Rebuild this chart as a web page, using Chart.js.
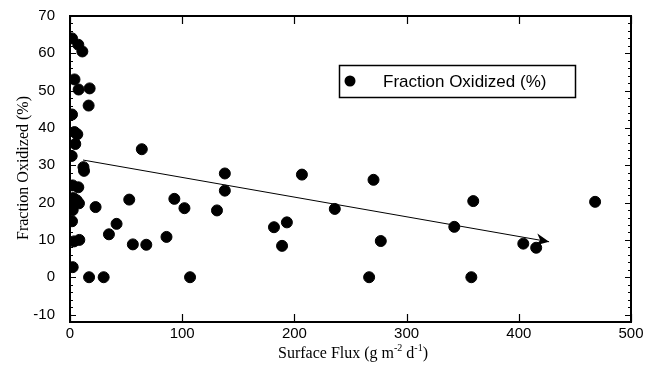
<!DOCTYPE html>
<html>
<head>
<meta charset="utf-8">
<script src="https://cdn.jsdelivr.net/npm/chart.js@4/dist/chart.umd.min.js"></script>
<style>
  html, body { margin: 0; padding: 0; background: #fff; }
  .chart { width: 647px; height: 366px; }
</style>
</head>
<body>
<div class="chart"><canvas id="myChart" width="647" height="366"></canvas></div>
<script>
// surface flux (g m-2 d-1) vs fraction oxidized (%)
const fluxValues = [
  1.8, 7.4, 11, 4, 7.7, 17.5, 16.6, 1.8, 4, 6.5,
  4.7, 1.5, 64, 12, 12.5, 2.4, 7.4, 3, 6, 8,
  2, 2.4, 1.8, 22.8, 52.8, 93, 102, 131, 41.5, 34.7,
  86, 56, 68, 3.6, 8.3, 2.4, 17, 30, 107, 138,
  138, 206.7, 270.5, 236, 193.3, 181.8, 189, 277, 266.6, 359.4,
  342.5, 404, 415.5, 357.7, 468
];
const oxidizedValues = [
  64, 62.3, 60.5, 53, 50.3, 50.6, 46, 43.6, 38.9, 38.3,
  35.7, 32.5, 34.3, 29.5, 28.5, 24.6, 24.1, 21.2, 20.6, 19.8,
  19.5, 18, 15, 18.8, 20.8, 21, 18.5, 17.9, 14.3, 11.5,
  10.8, 8.8, 8.7, 9.6, 10, 2.7, 0, 0, 0, 27.8,
  23.2, 27.5, 26.1, 18.3, 14.7, 13.4, 8.4, 9.7, 0, 20.4,
  13.5, 9, 7.9, 0, 20.2
];
// trend arrow, start and tip
const trendX = [11.6, 427];
const trendY = [31.4, 9.5];

const xTicks = [0, 100, 200, 300, 400, 500];
const yTicks = [-10, 0, 10, 20, 30, 40, 50, 60, 70];
const yMinorStep = 2;

const seriesLabel = "Fraction Oxidized (%)";
const yTitle = "Fraction Oxidized (%)";

const frame = {
  id: "frame",
  afterDatasetsDraw(chart) {
    const { ctx, chartArea: a, scales } = chart;
    const xs = scales.x, ys = scales.y;
    ctx.save();
    ctx.strokeStyle = "#000";

    // inward ticks on all four sides
    ctx.lineWidth = 1.2;
    ctx.beginPath();
    xTicks.forEach((v) => {
      const px = Math.round(xs.getPixelForValue(v)) + 0.5;
      ctx.moveTo(px, a.bottom); ctx.lineTo(px, a.bottom - 8);
      ctx.moveTo(px, a.top); ctx.lineTo(px, a.top + 8);
    });
    for (let v = yTicks[0]; v <= yTicks[yTicks.length - 1]; v += yMinorStep) {
      const len = v % 10 === 0 ? 6 : 3;
      const py = Math.round(ys.getPixelForValue(v)) + 0.5;
      ctx.moveTo(a.left, py); ctx.lineTo(a.left + len, py);
      ctx.moveTo(a.right, py); ctx.lineTo(a.right - len, py);
    }
    ctx.stroke();

    ctx.lineWidth = 2;
    ctx.strokeRect(a.left, a.top, a.right - a.left, a.bottom - a.top);

    // arrow head at the end of the trend line
    const x0 = xs.getPixelForValue(trendX[0]), y0 = ys.getPixelForValue(trendY[0]);
    const x1 = xs.getPixelForValue(trendX[1]), y1 = ys.getPixelForValue(trendY[1]);
    const ang = Math.atan2(y1 - y0, x1 - x0);
    ctx.translate(x1, y1);
    ctx.rotate(ang);
    ctx.fillStyle = "#000";
    ctx.beginPath();
    ctx.moveTo(0, 0);
    ctx.lineTo(-13, -6);
    ctx.lineTo(-9, 0);
    ctx.lineTo(-13, 6);
    ctx.closePath();
    ctx.fill();
    ctx.restore();

    // legend box
    ctx.save();
    ctx.lineWidth = 1.5;
    ctx.strokeStyle = "#000";
    ctx.strokeRect(339.5, 65.5, 236, 32);
    ctx.fillStyle = "#000";
    ctx.beginPath();
    ctx.arc(350, 81, 5.5, 0, Math.PI * 2);
    ctx.fill();
    ctx.font = '17px "Liberation Sans", Arial, sans-serif';
    ctx.textBaseline = "middle";
    ctx.fillText(seriesLabel, 383, 82);
    ctx.restore();

    // axis titles
    ctx.save();
    ctx.fillStyle = "#000";
    ctx.textBaseline = "alphabetic";
    const big = '16px "Liberation Serif", "Times New Roman", serif';
    const small = '10px "Liberation Serif", "Times New Roman", serif';
    const parts = [
      ["Surface Flux (g m", big, 0],
      ["-2", small, -7],
      [" d", big, 0],
      ["-1", small, -7],
      [")", big, 0],
    ];
    let total = 0;
    parts.forEach((p) => { ctx.font = p[1]; total += ctx.measureText(p[0]).width; });
    let cx = 353 - total / 2;
    parts.forEach((p) => {
      ctx.font = p[1];
      ctx.fillText(p[0], cx, 358 + p[2]);
      cx += ctx.measureText(p[0]).width;
    });

    ctx.font = big;
    ctx.translate(28, 168);
    ctx.rotate(-Math.PI / 2);
    ctx.textAlign = "center";
    ctx.fillText(yTitle, 0, 0);
    ctx.restore();
  },
};

const ctx = document.getElementById("myChart").getContext("2d");
const myChart = new Chart(ctx, {
  type: "scatter",
  data: {
    datasets: [
      {
        label: seriesLabel,
        data: fluxValues.map((x, i) => ({ x: x, y: oxidizedValues[i] })),
        backgroundColor: "#000",
        borderColor: "#000",
        pointRadius: 5.5,
        pointHoverRadius: 5.5,
      },
      {
        label: "trend",
        type: "line",
        data: trendX.map((x, i) => ({ x: x, y: trendY[i] })),
        borderColor: "#000",
        borderWidth: 1,
        pointRadius: 0,
        fill: false,
      },
    ],
  },
  options: {
    responsive: false,
    animation: false,
    layout: { padding: { top: 16, right: 16, left: 0, bottom: 0 } },
    plugins: {
      legend: { display: false },
      tooltip: { enabled: false },
    },
    scales: {
      x: {
        type: "linear",
        min: 0,
        max: 500,
        afterBuildTicks: (s) => { s.ticks = xTicks.map((v) => ({ value: v })); },
        afterFit: (s) => { s.height = 44; s.paddingLeft = 0; s.paddingRight = 0; },
        grid: { display: false, drawTicks: false },
        border: { display: false },
        ticks: {
          color: "#000",
          padding: 3,
          maxRotation: 0,
          font: { family: '"Liberation Sans", Arial, sans-serif', size: 15 },
        },
      },
      y: {
        type: "linear",
        min: -12,
        max: 70,
        afterBuildTicks: (s) => { s.ticks = yTicks.map((v) => ({ value: v })); },
        afterFit: (s) => { s.width = 70; s.paddingTop = 0; s.paddingBottom = 0; },
        grid: { display: false, drawTicks: false },
        border: { display: false },
        ticks: {
          color: "#000",
          padding: 15,
          font: { family: '"Liberation Sans", Arial, sans-serif', size: 15 },
        },
      },
    },
  },
  plugins: [frame],
});
</script>
</body>
</html>
